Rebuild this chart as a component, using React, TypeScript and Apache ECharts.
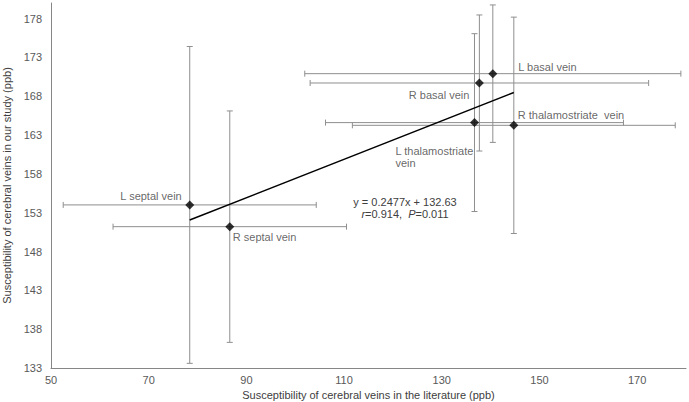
import React, { useEffect, useRef } from "react";
import * as echarts from "echarts";

const veinNames = [
  "L septal vein",
  "R septal vein",
  "L basal vein",
  "R basal vein",
  "L thalamostriate\nvein",
  "R thalamostriate  vein",
];
const literatureX = [78.4, 86.6, 140.45, 137.7, 136.7, 144.75];
const studyY = [154.0, 151.2, 170.9, 169.7, 164.6, 164.25];
const literatureErr = [25.9, 23.9, 38.5, 34.65, 30.5, 33.05];
const studyErr = [20.4, 14.9, 8.85, 8.76, 11.45, 13.93];
const slope = 0.2477;
const intercept = 132.63;
const xTicks = [50, 70, 90, 110, 130, 150, 170];
const yTicks = [133, 138, 143, 148, 153, 158, 163, 168, 173, 178];

// label placement relative to the marker: [align, dx, dy]
const labelLayout: [string, number, number][] = [
  ["right", -8, -8.5],
  ["left", 3, 10.5],
  ["left", 25.5, -6.5],
  ["right", -10, 12.5],
  ["left", -79, 34],
  ["left", 4, -10.5],
];

const FONT = "'Liberation Sans', Arial, sans-serif";

export default function App() {
  const ref = useRef<HTMLDivElement>(null);
  useEffect(() => {
    if (!ref.current) return;
    const chart = echarts.init(ref.current, undefined, { renderer: "svg" });
    const errData = literatureX.map((x, i) => [x, studyY[i], literatureErr[i], studyErr[i]]);
    const xs = literatureX.slice();
    const xMin = Math.min(...xs);
    const xMax = Math.max(...xs);
    const trend = [
      [xMin, slope * xMin + intercept],
      [xMax, slope * xMax + intercept],
    ];
    const pointData = literatureX.map((x, i) => ({
      value: [x, studyY[i]],
      name: veinNames[i],
      label: {
        show: true,
        position: "inside",
        align: labelLayout[i][0],
        verticalAlign: "middle",
        offset: [labelLayout[i][1], labelLayout[i][2]],
        formatter: veinNames[i],
        color: "#404040",
        textBorderWidth: 0,
        textBorderColor: "transparent",
        fontSize: 11,
        fontFamily: FONT,
        lineHeight: 12,
      },
    }));
    chart.setOption({
      animation: false,
      backgroundColor: "#ffffff",
      textStyle: { fontFamily: FONT },
      grid: {
        left: 51,
        right: 3,
        top: 3,
        bottom: 34,
        containLabel: false,
        outerBoundsMode: "none",
      },
      xAxis: {
        type: "value",
        min: 50,
        max: 180,
        name: "Susceptibility of cerebral veins in the literature (ppb)",
        nameLocation: "middle",
        nameGap: 18,
        nameTextStyle: { color: "#404040", fontSize: 11, fontFamily: FONT },
        axisLine: { show: true, lineStyle: { color: "#868686", width: 1 } },
        axisTick: { show: false },
        splitLine: { show: false },
        axisLabel: {
          customValues: xTicks,
          color: "#595959",
          fontSize: 11,
          fontFamily: FONT,
          margin: 6,
        },
      },
      yAxis: {
        type: "value",
        min: 133,
        max: 180,
        name: "Susceptibility of cerebral veins in our study (ppb)",
        nameLocation: "middle",
        nameGap: 38,
        nameTextStyle: { color: "#404040", fontSize: 11, fontFamily: FONT },
        axisLine: { show: true, lineStyle: { color: "#868686", width: 1 } },
        axisTick: { show: false },
        splitLine: { show: false },
        axisLabel: {
          customValues: yTicks,
          color: "#595959",
          fontSize: 11,
          fontFamily: FONT,
          margin: 9,
        },
      },
      series: [
        {
          type: "custom",
          data: errData,
          encode: { x: 0, y: 1 },
          silent: true,
          z: 1,
          renderItem: (params: any, api: any) => {
            const x = api.value(0);
            const y = api.value(1);
            const ex = api.value(2);
            const ey = api.value(3);
            const l = api.coord([x - ex, y]);
            const r = api.coord([x + ex, y]);
            const t = api.coord([x, y + ey]);
            const b = api.coord([x, y - ey]);
            const cap = 3;
            const style = { stroke: "#8f8f8f", lineWidth: 1 };
            const mk = (x1: number, y1: number, x2: number, y2: number) => ({
              type: "line",
              shape: { x1, y1, x2, y2 },
              style,
            });
            return {
              type: "group",
              children: [
                mk(l[0], l[1], r[0], r[1]),
                mk(l[0], l[1] - cap, l[0], l[1] + cap),
                mk(r[0], r[1] - cap, r[0], r[1] + cap),
                mk(t[0], t[1], b[0], b[1]),
                mk(t[0] - cap, t[1], t[0] + cap, t[1]),
                mk(b[0] - cap, b[1], b[0] + cap, b[1]),
              ],
            };
          },
        },
        {
          type: "line",
          data: trend,
          symbol: "none",
          z: 2,
          lineStyle: { color: "#000000", width: 1.5 },
          silent: true,
        },
        {
          type: "scatter",
          data: pointData,
          symbol: "diamond",
          symbolSize: 9,
          z: 3,
          itemStyle: { color: "#000000" },
        },
      ],
      graphic: [
        {
          type: "text",
          x: 405,
          y: 208,
          style: {
            text: "y = 0.2477x + 132.63\n{i|r}=0.914,  {i|P}=0.011",
            align: "center",
            verticalAlign: "middle",
            fill: "#404040",
            fontSize: 11,
            fontFamily: FONT,
            lineHeight: 11.5,
            rich: {
              i: { fontStyle: "italic", fontSize: 11, fontFamily: FONT, fill: "#404040" },
            },
          },
        },
      ],
    });
    return () => chart.dispose();
  }, []);
  return (
    <div
      ref={ref}
      style={{ position: "fixed", left: 0, top: 0, width: 689, height: 402 }}
    />
  );
}
